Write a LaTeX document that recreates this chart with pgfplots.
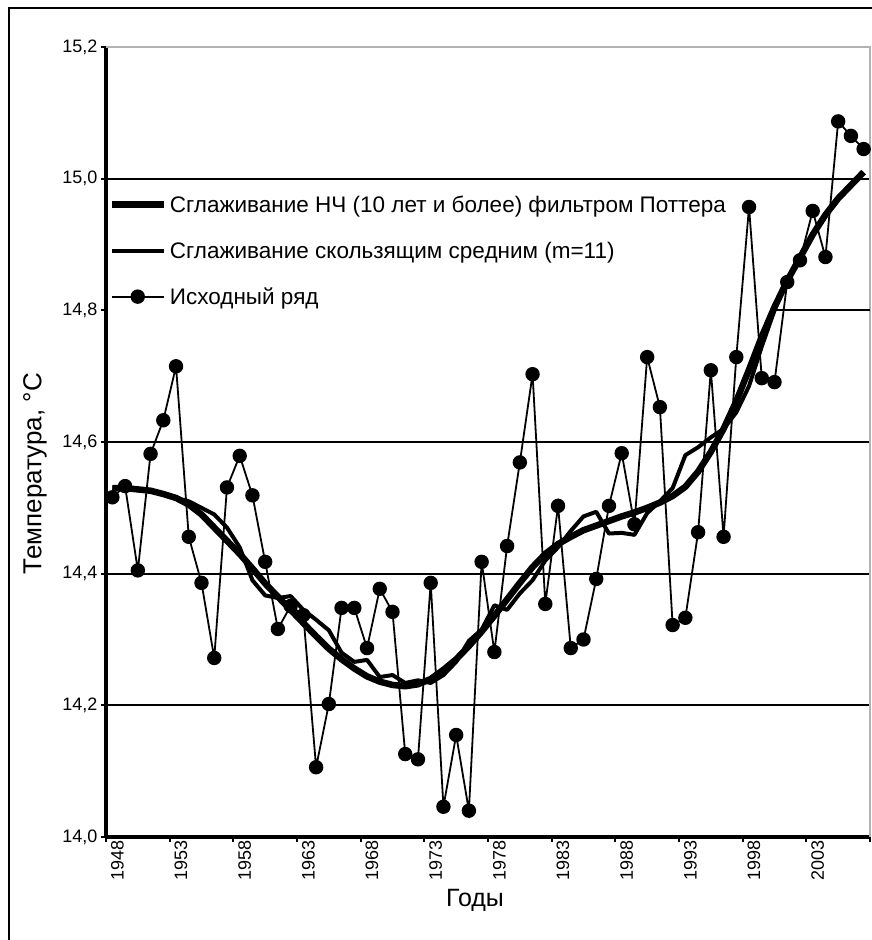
\documentclass[border=0pt]{standalone}
\usepackage{fontspec}
\setmainfont{Liberation Sans}
\usepackage{pgfplots}
\usepackage{pgfplotstable}
\pgfplotsset{compat=1.18}
\pgfplotstableread{
year t
1948 14.516
1949 14.533
1950 14.405
1951 14.582
1952 14.633
1953 14.715
1954 14.456
1955 14.386
1956 14.272
1957 14.531
1958 14.579
1959 14.519
1960 14.418
1961 14.316
1962 14.351
1963 14.337
1964 14.106
1965 14.202
1966 14.348
1967 14.348
1968 14.287
1969 14.377
1970 14.342
1971 14.126
1972 14.118
1973 14.386
1974 14.046
1975 14.155
1976 14.040
1977 14.418
1978 14.281
1979 14.442
1980 14.569
1981 14.703
1982 14.354
1983 14.503
1984 14.287
1985 14.300
1986 14.392
1987 14.503
1988 14.583
1989 14.475
1990 14.729
1991 14.653
1992 14.322
1993 14.333
1994 14.463
1995 14.709
1996 14.456
1997 14.729
1998 14.957
1999 14.697
2000 14.691
2001 14.843
2002 14.876
2003 14.951
2004 14.881
2005 15.087
2006 15.065
2007 15.045
}\rawdata
\pgfplotstableread{
year t
1948 14.530
1949 14.530
1950 14.528
1951 14.526
1952 14.521
1953 14.515
1954 14.505
1955 14.490
1956 14.470
1957 14.450
1958 14.430
1959 14.408
1960 14.385
1961 14.365
1962 14.345
1963 14.325
1964 14.305
1965 14.286
1966 14.270
1967 14.256
1968 14.244
1969 14.236
1970 14.231
1971 14.229
1972 14.232
1973 14.240
1974 14.254
1975 14.270
1976 14.290
1977 14.312
1978 14.336
1979 14.361
1980 14.386
1981 14.410
1982 14.430
1983 14.445
1984 14.456
1985 14.466
1986 14.473
1987 14.480
1988 14.487
1989 14.493
1990 14.500
1991 14.508
1992 14.518
1993 14.532
1994 14.555
1995 14.585
1996 14.620
1997 14.662
1998 14.710
1999 14.760
2000 14.805
2001 14.845
2002 14.880
2003 14.915
2004 14.945
2005 14.970
2006 14.990
2007 15.010
}\potter
\pgfplotstableread{
year t
1948 14.530
1949 14.530
1950 14.527
1951 14.527
1952 14.520
1953 14.515
1954 14.510
1955 14.500
1956 14.490
1957 14.470
1958 14.440
1959 14.390
1960 14.367
1961 14.363
1962 14.366
1963 14.345
1964 14.330
1965 14.314
1966 14.280
1967 14.266
1968 14.269
1969 14.243
1970 14.246
1971 14.234
1972 14.238
1973 14.234
1974 14.246
1975 14.266
1976 14.298
1977 14.315
1978 14.352
1979 14.345
1980 14.370
1981 14.390
1982 14.420
1983 14.440
1984 14.465
1985 14.487
1986 14.494
1987 14.461
1988 14.462
1989 14.459
1990 14.492
1991 14.510
1992 14.530
1993 14.580
1994 14.592
1995 14.607
1996 14.620
1997 14.645
1998 14.685
1999 14.745
2000 14.800
2001 14.845
2002 14.885
}\mavg
\begin{document}
\begin{tikzpicture}
\useasboundingbox (0pt,0pt) rectangle (872pt,-940pt);
\draw[line width=1.5pt] (9pt,-950pt) -- (9pt,-8pt) -- (880pt,-8pt);
\begin{axis}[
  at={(106pt,-837pt)}, anchor=south west,
  width=764pt, height=790pt, scale only axis, clip=false,
  xmin=1947.5, xmax=2007.5, ymin=14, ymax=15.2,
  axis x line*=bottom, axis y line*=left,
  x axis line style={line width=4pt, -},
  y axis line style={line width=4pt, -},
  tick align=outside,
  major tick length=5pt,
  tick style={line width=2pt, black},
  xtick={1947.5,1952.5,...,2008},
  xticklabels={},
  extra x ticks={1948,1953,1958,1963,1968,1973,1978,1983,1988,1993,1998,2003},
  extra x tick labels={1948,1953,1958,1963,1968,1973,1978,1983,1988,1993,1998,2003},
  extra x tick style={major tick length=0pt, tick style={draw=none}},
  ticklabel style={font=\fontsize{18}{21}\selectfont},
  xticklabel style={rotate=90, anchor=east, yshift=-5pt},
  ytick={14,14.2,...,15.21},
  yticklabel style={/pgf/number format/.cd, fixed, fixed zerofill, precision=1, use comma, assume math mode=true},
  extra y ticks={14.2,14.4,14.6,15.0},
  extra y tick labels={},
  extra y tick style={grid=major, major tick length=0pt, grid style={black, line width=2pt}},
  xlabel={Годы},
  xlabel style={at={(axis description cs:0.483,-0.08)}, anchor=center, font=\fontsize{25}{29}\selectfont},
  ylabel={Температура, °C},
  ylabel style={at={(axis description cs:-0.093,0.46)}, anchor=center, font=\fontsize{26}{30}\selectfont},
  legend cell align=left,
  legend style={at={(axis description cs:0.003,0.812)}, anchor=north west, draw=none, fill=none,
    inner sep=0pt, row sep=28pt, font=\fontsize{22.5}{27}\selectfont,
    nodes={inner xsep=3pt, inner ysep=0pt}},
  legend image code/.code={\draw[mark repeat=2, mark phase=2, #1] plot coordinates {(0pt,0pt) (26pt,0pt) (52pt,0pt)};},
]
\draw[gray!60, line width=1.5pt] (rel axis cs:0,1) -- (rel axis cs:1,1) -- (rel axis cs:1,0);
\addplot[forget plot, black, line width=2pt] coordinates {(1999.9,14.8) (2007.5,14.8)};
\addplot[black, line width=6.5pt, line join=round] table[x=year, y=t] {\potter};
\addlegendentry{Сглаживание НЧ (10 лет и более) фильтром Поттера}
\addplot[black, line width=4pt, line join=round] table[x=year, y=t] {\mavg};
\addlegendentry{Сглаживание скользящим средним (m=11)}
\addplot[black, line width=1.8pt, mark=*, mark size=6.3pt, mark options={solid, fill=black}] table[x=year, y=t] {\rawdata};
\addlegendentry{Исходный ряд}
\end{axis}
\end{tikzpicture}
\end{document}
